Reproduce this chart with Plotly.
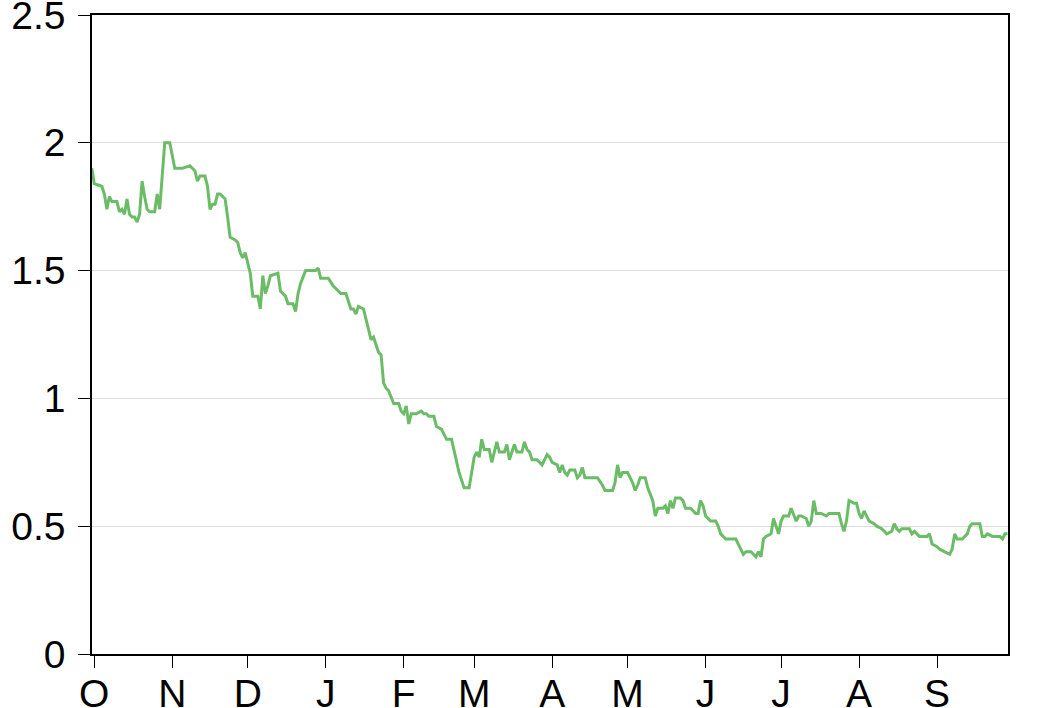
import pandas as pd
import plotly.graph_objects as go

# Day offsets from 1 Oct 2022 and the values
days = [-1, 0, 3, 4, 5, 6, 7, 9, 10, 11, 12, 13, 14, 15, 16, 17, 18, 19, 20, 21,
        22, 24, 25, 26, 27, 28, 30, 31, 32, 33, 35, 38, 40, 41, 42, 44, 45, 46, 47, 48,
        49, 50, 52, 53, 54, 56, 57, 58, 59, 60, 61, 62, 63, 64, 65, 66, 67, 68, 69, 70,
        73, 74, 76, 77, 79, 80, 81, 82, 84, 88, 89, 90, 93, 95, 96, 98, 100, 101, 102, 103,
        104, 105, 107, 108, 109, 110, 111, 112, 113, 114, 115, 116, 117, 119, 121, 122, 123, 124, 125, 126,
        128, 130, 131, 132, 133, 135, 136, 138, 140, 142, 143, 144, 145, 147, 149, 150, 151, 152, 153, 154,
        155, 156, 157, 158, 160, 161, 163, 164, 165, 166, 167, 168, 170, 171, 172, 173, 174, 176, 178, 180,
        181, 182, 184, 185, 186, 187, 188, 189, 191, 192, 193, 194, 195, 197, 200, 202, 203, 206, 207, 208,
        209, 210, 212, 214, 215, 216, 217, 219, 220, 222, 223, 224, 226, 227, 228, 229, 230, 231, 233, 234,
        235, 237, 239, 240, 241, 242, 243, 245, 247, 248, 249, 251, 255, 256, 258, 259, 261, 262, 263, 264,
        265, 266, 267, 269, 270, 271, 272, 273, 274, 276, 277, 279, 280, 281, 283, 284, 285, 286, 287, 289,
        291, 292, 296, 297, 298, 299, 300, 302, 303, 304, 305, 306, 308, 310, 311, 313, 315, 317, 318, 319,
        320, 321, 324, 325, 326, 327, 328, 331, 332, 333, 335, 336, 338, 340, 341, 342, 343, 345, 347, 348,
        349, 352, 353, 354, 355, 357, 360, 361, 362, 363]

values = [1.90, 1.84, 1.83, 1.80, 1.74, 1.79, 1.77, 1.77, 1.73, 1.74, 1.72, 1.78, 1.72, 1.71, 1.71, 1.69, 1.72, 1.85, 1.79, 1.74,
          1.73, 1.73, 1.80, 1.74, 1.87, 2.00, 2.00, 1.95, 1.90, 1.90, 1.90, 1.91, 1.89, 1.85, 1.87, 1.87, 1.83, 1.74, 1.76, 1.76,
          1.80, 1.80, 1.78, 1.71, 1.63, 1.62, 1.61, 1.57, 1.55, 1.57, 1.53, 1.49, 1.40, 1.40, 1.40, 1.35, 1.48, 1.41, 1.44, 1.48,
          1.49, 1.42, 1.40, 1.37, 1.37, 1.34, 1.41, 1.45, 1.50, 1.50, 1.51, 1.47, 1.47, 1.44, 1.43, 1.41, 1.41, 1.38, 1.35, 1.35,
          1.33, 1.36, 1.35, 1.31, 1.27, 1.23, 1.24, 1.21, 1.18, 1.17, 1.06, 1.04, 1.03, 0.98, 0.98, 0.95, 0.94, 0.97, 0.90, 0.94,
          0.94, 0.95, 0.94, 0.94, 0.93, 0.93, 0.89, 0.88, 0.84, 0.84, 0.80, 0.75, 0.71, 0.65, 0.65, 0.71, 0.77, 0.79, 0.77, 0.84,
          0.80, 0.80, 0.80, 0.75, 0.83, 0.79, 0.79, 0.82, 0.76, 0.79, 0.82, 0.79, 0.79, 0.83, 0.80, 0.79, 0.76, 0.76, 0.74, 0.78,
          0.77, 0.75, 0.74, 0.71, 0.74, 0.71, 0.70, 0.72, 0.72, 0.69, 0.70, 0.73, 0.69, 0.69, 0.69, 0.66, 0.64, 0.64, 0.67, 0.74,
          0.69, 0.71, 0.71, 0.67, 0.64, 0.66, 0.69, 0.69, 0.65, 0.60, 0.54, 0.57, 0.57, 0.58, 0.55, 0.60, 0.57, 0.61, 0.61, 0.60,
          0.57, 0.57, 0.55, 0.55, 0.60, 0.58, 0.54, 0.52, 0.52, 0.50, 0.47, 0.45, 0.45, 0.43, 0.39, 0.40, 0.40, 0.39, 0.38, 0.40,
          0.38, 0.45, 0.46, 0.47, 0.53, 0.50, 0.47, 0.52, 0.54, 0.54, 0.57, 0.52, 0.54, 0.54, 0.53, 0.50, 0.52, 0.60, 0.55, 0.55,
          0.54, 0.55, 0.55, 0.51, 0.48, 0.52, 0.60, 0.59, 0.59, 0.55, 0.53, 0.56, 0.52, 0.51, 0.50, 0.49, 0.47, 0.48, 0.51, 0.49,
          0.48, 0.49, 0.49, 0.47, 0.48, 0.47, 0.46, 0.46, 0.47, 0.43, 0.42, 0.41, 0.40, 0.39, 0.41, 0.47, 0.45, 0.45, 0.47, 0.50,
          0.51, 0.51, 0.46, 0.46, 0.47, 0.46, 0.46, 0.45, 0.47, 0.47]

month_starts = ["2022-10-01", "2022-11-01", "2022-12-01", "2023-01-01", "2023-02-01", "2023-03-01",
                "2023-04-01", "2023-05-01", "2023-06-01", "2023-07-01", "2023-08-01", "2023-09-01"]
month_labels = ["O", "N", "D", "J", "F", "M", "A", "M", "J", "J", "A", "S"]
y_ticks = [0, 0.5, 1, 1.5, 2, 2.5]
y_labels = ["0", "0.5", "1", "1.5", "2", "2.5"]

base = pd.Timestamp("2022-10-01")
dates = [base + pd.Timedelta(days=d) for d in days]
x_range = [base + pd.Timedelta(days=-0.91), base + pd.Timedelta(days=363.2)]

fig = go.Figure()
fig.add_trace(go.Scatter(x=dates, y=values, mode="lines",
                         line=dict(color="#6abd66", width=3), hoverinfo="skip"))

font = dict(family="Liberation Sans, Arial, sans-serif", size=39, color="black")
fig.update_layout(
    width=1040, height=708,
    margin=dict(l=92, r=32, t=15, b=54),
    paper_bgcolor="white", plot_bgcolor="white",
    showlegend=False,
    font=font,
)
fig.update_xaxes(
    type="date", range=x_range, automargin=False,
    tickmode="array", tickvals=month_starts, ticktext=month_labels,
    ticks="outside", ticklen=12, tickwidth=1, tickcolor="black",
    ticklabelstandoff=-8, ticklabeloverflow="allow",
    showline=True, linecolor="black", linewidth=1.5, mirror=True,
    showgrid=False, zeroline=False, tickfont=font,
)
fig.update_yaxes(
    range=[0, 2.5], automargin=False,
    tickmode="array", tickvals=y_ticks, ticktext=y_labels,
    ticks="outside", ticklen=12, tickwidth=1, tickcolor="black",
    ticklabelstandoff=5, ticklabeloverflow="allow",
    showline=True, linecolor="black", linewidth=1.5, mirror=True,
    showgrid=True, gridcolor="#dcdcdc", gridwidth=1,
    zeroline=False, tickfont=font,
)

fig.write_html("out.html", config={"displayModeBar": False},
               post_script="document.body.style.margin='0px';")
